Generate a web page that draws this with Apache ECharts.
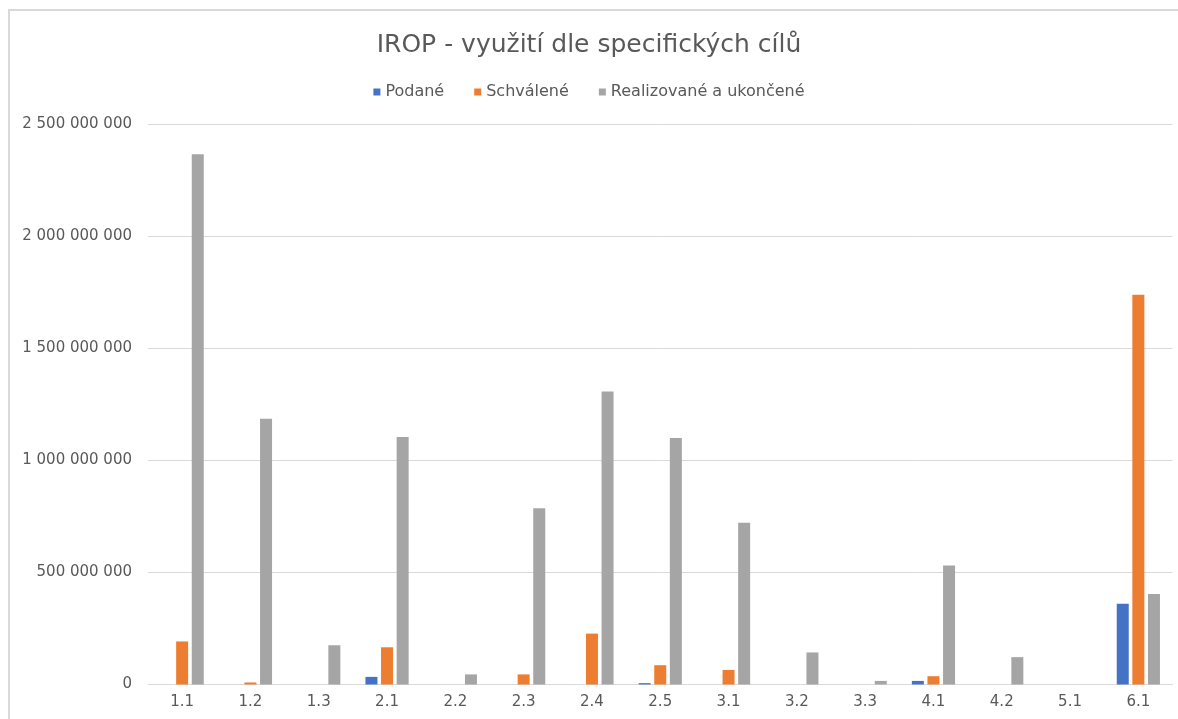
<!DOCTYPE html>
<html>
<head>
<meta charset="utf-8">
<script src="https://cdn.jsdelivr.net/npm/echarts@6/dist/echarts.min.js"></script>
<style>
html,body{margin:0;padding:0;background:#fff;}
#c{width:1178px;height:719px;}
</style>
</head>
<body>
<div id="c"></div>
<script>
const categories = ['1.1','1.2','1.3','2.1','2.2','2.3','2.4','2.5','3.1','3.2','3.3','4.1','4.2','5.1','6.1'];
const podane = [0, 0, 0, 34000000, 0, 0, 0, 6000000, 0, 0, 0, 16000000, 0, 0, 360000000];
const schvalene = [192000000, 9000000, 0, 166000000, 0, 45000000, 227000000, 86000000, 65000000, 0, 0, 37000000, 0, 0, 1738000000];
const realizovane = [2365000000, 1185000000, 175000000, 1104000000, 45000000, 786000000, 1307000000, 1099000000, 721000000, 143000000, 16000000, 531000000, 122000000, 0, 404000000];
const seriesNames = ['Podané', 'Schválené', 'Realizované a ukončené'];
const titleText = 'IROP - využití dle specifických cílů';

const FONT = "'Century Gothic','DejaVu Sans',sans-serif";
const TXT = '#595959';

function fmt(v){
  return String(v).replace(/\B(?=(\d{3})+(?!\d))/g, ' ');
}

const chart = echarts.init(document.getElementById('c'), null, {renderer:'canvas'});
chart.setOption({
  animation: false,
  backgroundColor: '#fff',
  graphic: [{
    type: 'rect',
    shape: {x: 9, y: 10, width: 1250, height: 800},
    style: {fill: 'none', stroke: '#d9d9d9', lineWidth: 2},
    silent: true,
    z: -10
  }],
  title: {
    text: titleText,
    left: 'center',
    top: 28,
    textStyle: {fontFamily: FONT, fontSize: 25, fontWeight: 'normal', color: TXT}
  },
  legend: {
    data: seriesNames,
    top: 79,
    left: 'center',
    itemWidth: 7,
    itemHeight: 7,
    itemGap: 30,
    icon: 'rect',
    textStyle: {fontFamily: FONT, fontSize: 16, color: TXT}
  },
  grid: {left: 148, right: 5.5, top: 124, bottom: 34.5, containLabel: false},
  xAxis: {
    type: 'category',
    data: categories,
    axisLine: {lineStyle: {color: '#d9d9d9', width: 1}},
    axisTick: {show: false},
    axisLabel: {fontFamily: FONT, fontSize: 15, color: TXT, margin: 10}
  },
  yAxis: {
    type: 'value',
    min: 0,
    max: 2500000000,
    interval: 500000000,
    axisLine: {show: false},
    axisTick: {show: false},
    splitLine: {lineStyle: {color: '#d9d9d9', width: 1}},
    axisLabel: {fontFamily: FONT, fontSize: 15, color: TXT, margin: 16, formatter: fmt}
  },
  series: [
    {name: seriesNames[0], type: 'bar', data: podane, barWidth: 12, barGap: '30%', itemStyle: {color: '#4472C4'}},
    {name: seriesNames[1], type: 'bar', data: schvalene, barWidth: 12, barGap: '30%', itemStyle: {color: '#ED7D31'}},
    {name: seriesNames[2], type: 'bar', data: realizovane, barWidth: 12, barGap: '30%', itemStyle: {color: '#A5A5A5'}}
  ]
});
</script>
</body>
</html>
